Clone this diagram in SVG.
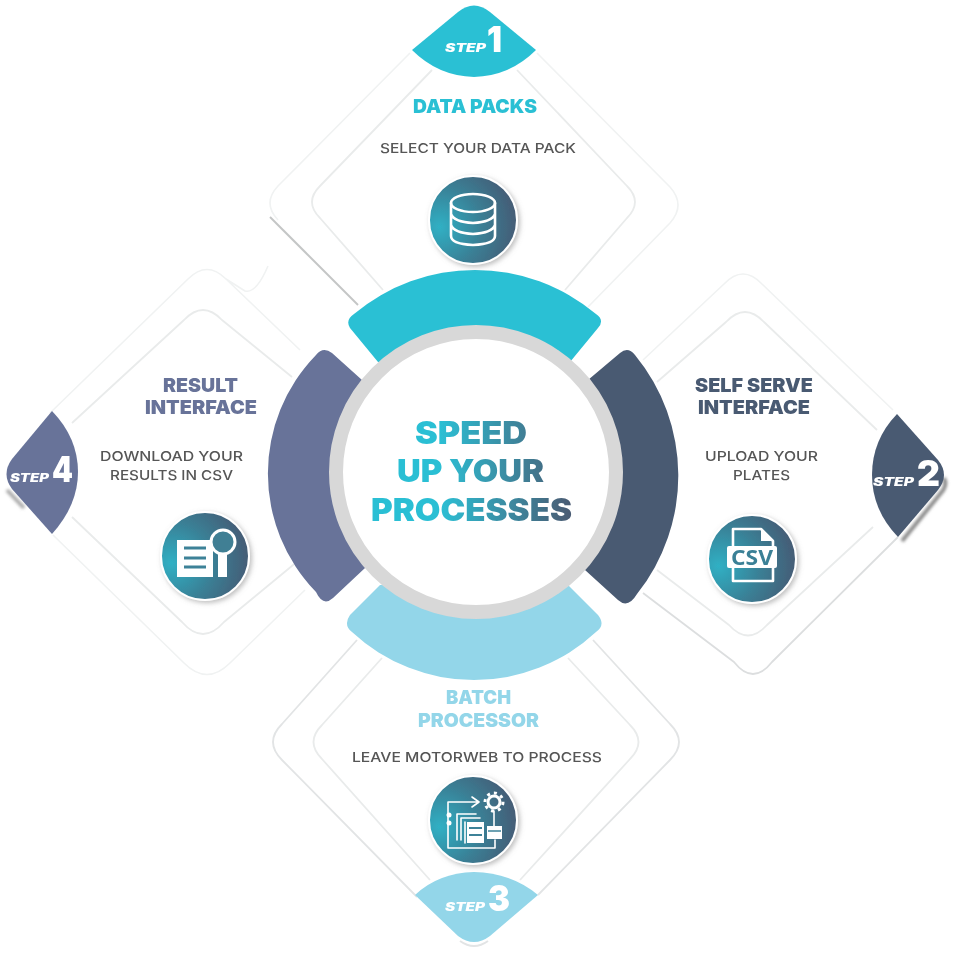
<svg xmlns="http://www.w3.org/2000/svg" width="956" height="955" viewBox="0 0 956 955">
<style>
text{font-family:"Inter","Liberation Sans",sans-serif;text-anchor:middle}
.ol{fill:none;stroke:#f0f2f2;stroke-width:1.6;stroke-linejoin:round}
.il{fill:none;stroke:#e9ebeb;stroke-width:1.8;stroke-linejoin:round}
.dk{fill:none;stroke:#c4c6c6;stroke-width:2}
.h{font-weight:900;font-size:19px}
.b{font-weight:500;font-size:13.5px;fill:#565656}
.c{font-weight:900;font-size:31px;fill:url(#tg)}
.s{font-weight:900;font-style:italic;font-size:11.5px;fill:#fff}
.n{font-weight:900;font-size:35px;fill:#fff}
.w{fill:none;stroke:#fff;stroke-width:2.6;stroke-linecap:round;stroke-linejoin:round}
.disc{fill:url(#ig);stroke:#fff;stroke-width:2;filter:url(#ds)}
</style>
<defs>
<radialGradient id="ig" cx="0.12" cy="0.58" r="0.95"><stop offset="0" stop-color="#2fb0c4"/><stop offset="0.5" stop-color="#3a7f95"/><stop offset="1" stop-color="#475670"/></radialGradient>
<linearGradient id="tg" gradientUnits="userSpaceOnUse" x1="440" y1="0" x2="572" y2="0"><stop offset="0" stop-color="#2cbfd4"/><stop offset="1" stop-color="#4a5a72"/></linearGradient>
<filter id="ds" x="-20%" y="-20%" width="150%" height="150%"><feDropShadow dx="2" dy="2" stdDeviation="2.500" flood-color="#888" flood-opacity="0.55"/></filter>
<filter id="sf" x="-5%" y="-5%" width="110%" height="110%"><feGaussianBlur stdDeviation="0.6"/></filter>
<filter id="sh" x="-30%" y="-30%" width="160%" height="160%"><feGaussianBlur stdDeviation="1.500"/></filter>
</defs>
<rect width="956" height="955" fill="#fff"/>
<g filter="url(#sf)">
<g id="connectors">
<path class="ol" d="M410 53L278 186Q262 203 278 220M537 53L670 187Q686 205 670 223L588 307"/>
<path class="dk" d="M270 217L358 305"/>
<path class="il" d="M432 70L320 186Q304 202 320 218L383 290M517 70L627 186Q643 202 627 218L565 290"/>
<path class="ol" d="M50 413L188 279Q207 260 226 279L245 291Q256 294 268 266M226 279L300 350M53 535L184 663Q207 686 230 663L305 590"/>
<path class="il" d="M72 423L184 320Q203 300 222 320L292 377M72 517L182 622Q203 646 224 622L304 556"/>
<path class="ol" d="M643 360L724 284Q743 264 762 284L893 410"/>
<path class="il" d="M657 382L726 322Q745 302 764 322L877 430"/>
<path class="il" style="stroke:#dcdedf" d="M898 537L772 662Q753 686 734 662L643 593"/>
<path class="il" d="M873 527L767 625Q748 646 729 625L657 570"/>
<path class="il" style="stroke:#e2e4e5" d="M357 640L282 724Q264 742 282 760L417 897M593 640L670 724Q688 742 670 760L538 895"/>
<path class="il" d="M382 658L322 725Q305 742 322 759L430 880M568 658L630 725Q647 742 630 759L520 880"/>
<path d="M460 941Q474 951 488 941" fill="none" stroke="#e2e4e5" stroke-width="2"/>
<path d="M944 478Q948 486 940 494L902 541" fill="none" stroke="#8a8a8a" stroke-width="4" filter="url(#sh)"/>
<path d="M7 490L24 508" fill="none" stroke="#aaa" stroke-width="4" filter="url(#sh)"/>
</g>
<g id="hub">
<path id="arc-top" fill="#2cc0d4" d="M378 362L350 328Q345 320 354 314A188 188 0 0 1 596 314Q605 320 598 328L570 362Z"/>
<path id="arc-right" fill="#4a5a72" d="M588 380L620 353Q628 346 635 355A190 190 0 0 1 637 594Q628 609 618 600L585 570Z"/>
<path id="arc-bottom" fill="#93d6e9" d="M380 585L350 615Q343 625 352 632A179 179 0 0 0 596 632Q606 625 598 615L568 585Z"/>
<path id="arc-left" fill="#677399" d="M362 380L332 353Q323 346 316 355A170 170 0 0 0 316 592Q323 607 333 598L365 568Z"/>
<circle cx="476" cy="472" r="140" fill="#fff" stroke="#d8d8d8" stroke-width="14"/>
<text class="c" x="471" y="444" textLength="112" lengthAdjust="spacingAndGlyphs">SPEED</text>
<text class="c" x="470.500" y="482" textLength="147" lengthAdjust="spacingAndGlyphs">UP YOUR</text>
<text class="c" x="471.500" y="521" textLength="201" lengthAdjust="spacingAndGlyphs">PROCESSES</text>
</g>
<g id="step-1">
<path fill="#2cc0d4" d="M412 50L458 12Q474 -1 490 12L536 50Q510 76 474 77Q438 76 412 50Z"/>
<text class="s" x="465.500" y="52" textLength="41" lengthAdjust="spacingAndGlyphs">STEP</text>
<text class="n" x="494.500" y="52" textLength="15" lengthAdjust="spacingAndGlyphs">1</text>
<text class="h" x="475" y="113" fill="#2cc0d4" textLength="124" lengthAdjust="spacingAndGlyphs">DATA PACKS</text>
<text class="b" x="478" y="153" textLength="196" lengthAdjust="spacingAndGlyphs">SELECT YOUR DATA PACK</text>
<circle class="disc" cx="473" cy="220" r="44"/>
<g class="w">
<ellipse cx="473" cy="203" rx="22" ry="9"/>
<path d="M451 203V236Q451 244 473 245Q495 244 495 236V203M451 214Q454 222 473 223Q492 222 495 214M451 225Q454 233 473 234Q492 233 495 225"/>
</g>
</g>
<g id="step-2">
<path fill="#4a5a72" d="M897 414L938 460Q950 475 938 490L898 537Q872 510 872 475Q872 440 897 414Z"/>
<text class="s" x="893.500" y="486" textLength="41" lengthAdjust="spacingAndGlyphs">STEP</text>
<text class="n" x="928.500" y="486" textLength="23" lengthAdjust="spacingAndGlyphs">2</text>
<text class="h" x="754" y="392" fill="#4a5a72" textLength="118" lengthAdjust="spacingAndGlyphs">SELF SERVE</text>
<text class="h" x="754" y="414" fill="#4a5a72" textLength="112" lengthAdjust="spacingAndGlyphs">INTERFACE</text>
<text class="b" x="761.500" y="461" textLength="113" lengthAdjust="spacingAndGlyphs">UPLOAD YOUR</text>
<text class="b" x="761.500" y="480" textLength="57" lengthAdjust="spacingAndGlyphs">PLATES</text>
<circle class="disc" cx="752" cy="559" r="44"/>
<path class="w" d="M733 546V529H761L773 541V546M733 568V581H773V568"/>
<path d="M761 529V541H773Z" fill="#fff"/>
<rect x="727" y="546" width="50" height="22" rx="2" fill="#fff"/>
<text x="752" y="565" font-size="21" font-weight="700" fill="#3a8096" style="font-family:'Open Sans','Liberation Sans',sans-serif" textLength="42" lengthAdjust="spacingAndGlyphs">CSV</text>
</g>
<g id="step-3">
<path fill="#93d6e9" d="M415 895Q438 873 474 872Q512 873 538 895L490 936Q474 948 458 936Z"/>
<text class="s" x="465" y="911" textLength="40" lengthAdjust="spacingAndGlyphs">STEP</text>
<text class="n" x="499" y="911" textLength="22" lengthAdjust="spacingAndGlyphs">3</text>
<text class="h" x="478.500" y="704" fill="#93d6e9" textLength="65" lengthAdjust="spacingAndGlyphs">BATCH</text>
<text class="h" x="478.500" y="727" fill="#93d6e9" textLength="121" lengthAdjust="spacingAndGlyphs">PROCESSOR</text>
<text class="b" x="477" y="762" textLength="250" lengthAdjust="spacingAndGlyphs">LEAVE MOTORWEB TO PROCESS</text>
<circle class="disc" cx="473" cy="820" r="44"/>
<g class="w" style="stroke-width:1.6">
<path d="M477 802H448V848H495V840M472 797L479 802L472 807M494 811V826"/>
<path d="M457 840V814H476M461 840V818H480M465 843V822"/>
</g>
<circle cx="494" cy="802" r="6" fill="none" stroke="#fff" stroke-width="3"/>
<circle cx="494" cy="802" r="9" fill="none" stroke="#fff" stroke-width="3" stroke-dasharray="3 4"/>
<circle cx="449" cy="815" r="2.500" fill="#fff"/>
<circle cx="449" cy="823" r="2.500" fill="#fff"/>
<rect x="467" y="822" width="17" height="21" fill="#fff"/>
<path d="M469 828H482M469 835H482" stroke="#3c8298" stroke-width="2"/>
<rect x="487" y="826" width="15" height="13" fill="#fff"/>
<path d="M488 831H501" stroke="#3c8298" stroke-width="1.500"/>
</g>
<g id="step-4">
<path fill="#677399" d="M52 411Q78 438 78 472Q78 505 52 534L12 489Q1 474 12 459Z"/>
<text class="s" x="29.500" y="482" textLength="39" lengthAdjust="spacingAndGlyphs">STEP</text>
<text class="n" x="62.500" y="482" textLength="21" lengthAdjust="spacingAndGlyphs">4</text>
<text class="h" x="200.500" y="392" fill="#677399" textLength="75" lengthAdjust="spacingAndGlyphs">RESULT</text>
<text class="h" x="201" y="414" fill="#677399" textLength="112" lengthAdjust="spacingAndGlyphs">INTERFACE</text>
<text class="b" x="171.500" y="461" textLength="143" lengthAdjust="spacingAndGlyphs">DOWNLOAD YOUR</text>
<text class="b" x="171.500" y="480" textLength="123" lengthAdjust="spacingAndGlyphs">RESULTS IN CSV</text>
<circle class="disc" cx="205" cy="556" r="44"/>
<path d="M177 540H213V577H177Z" fill="#fff"/>
<path d="M184 548H206M184 558H206M184 567H206" stroke="#3c8298" stroke-width="3"/>
<rect x="218" y="552" width="9" height="25" fill="#fff"/>
<circle cx="223" cy="542" r="12" fill="#3f7f94" stroke="#fff" stroke-width="3"/>
</g>
</g>
</svg>
